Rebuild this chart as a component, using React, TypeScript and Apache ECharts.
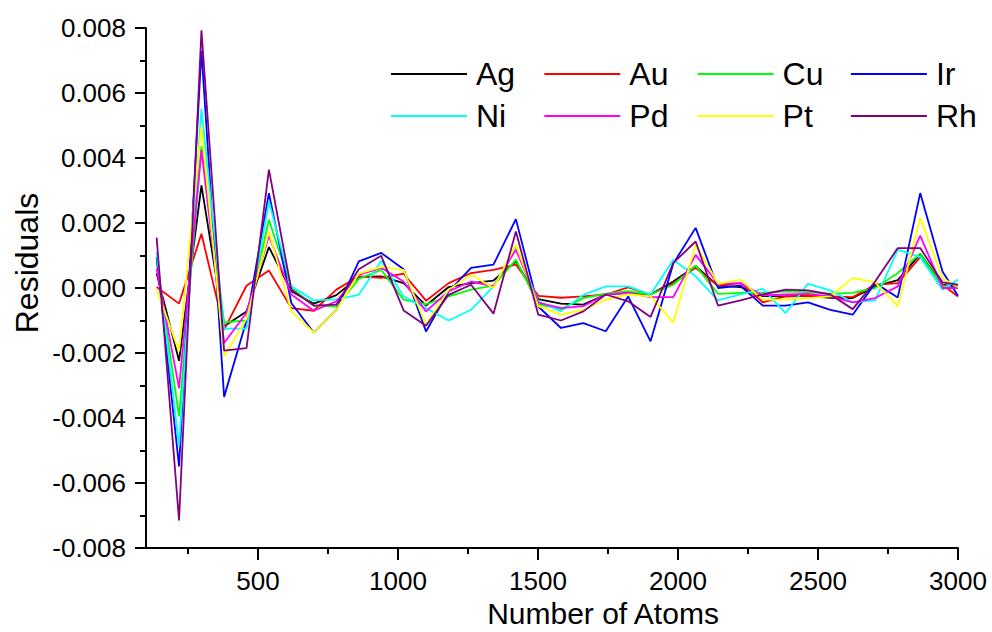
import React, { useEffect, useRef } from "react";
import * as echarts from "echarts";

const atoms = [138, 218, 298, 379, 459, 539, 619, 699, 780, 860, 940, 1020, 1100, 1181, 1261, 1341, 1421, 1501, 1582, 1662, 1742, 1822, 1902, 1983, 2063, 2143, 2223, 2303, 2384, 2464, 2544, 2624, 2704, 2785, 2865, 2945, 3000];

const ag = [0.00045, -0.00224, 0.00316, -0.00118, -0.00072, 0.00126, -0.0001, -0.00048, -0.00022, 0.00034, 0.00036, 0.00015, -0.00054, 0.00003, 0.00015, 0.00023, 0.00082, -0.00034, -0.00048, -0.00051, -0.0002, -0.00015, -0.0002, 0.0002, 0.00067, 0.00007, 0.00003, -0.00025, -0.00026, -0.00024, -0.0003, -0.00031, 0.00005, 0.00024, 0.00105, 0.0001, 0.00003];
const au = [0.00003, -0.00048, 0.00167, -0.00128, 0.00007, 0.00054, -0.00062, -0.0007, -0.00005, 0.00036, 0.00031, 0.00044, -0.00039, 0.00015, 0.00046, 0.00056, 0.00072, -0.00024, -0.0003, -0.00026, -0.0002, 0.00002, -0.0002, 0.00015, 0.00062, 0.00007, 0.00015, -0.00044, -0.00026, -0.00024, -0.00026, -0.00028, 0.0001, 0.00015, 0.00095, 0.0001, -0.00026];
const cu = [0.00085, -0.00395, 0.00436, -0.00106, -0.001, 0.0021, 0.0, -0.00054, -0.00057, 0.00028, 0.00056, -0.00036, -0.0005, -0.00026, -0.00005, 0.00007, 0.00087, -0.0005, -0.00065, -0.00031, -0.00017, -0.0001, -0.0002, 0.0001, 0.00069, -0.00018, -0.00015, -0.00015, -0.0001, -0.00013, -0.00017, -0.00015, 0.0, 0.00046, 0.00105, 0.00005, 0.00007];
const ir = [0.00095, -0.00549, 0.0073, -0.00335, -0.001, 0.00292, -0.00046, -0.00137, -0.00067, 0.00082, 0.00108, 0.00058, -0.00134, -0.0001, 0.00062, 0.00072, 0.00212, -0.00057, -0.00123, -0.00108, -0.00133, -0.00026, -0.00164, 0.00075, 0.00185, 0.0, 0.00007, -0.00054, -0.00054, -0.00044, -0.00067, -0.00082, 0.00015, -0.00029, 0.00292, 0.0005, -0.00024];
const ni = [0.0011, -0.00487, 0.00551, -0.00125, -0.00125, 0.00266, 0.00005, -0.00038, -0.00035, -0.00021, 0.00084, -0.00026, -0.00062, -0.001, -0.00067, 0.00005, 0.00123, -0.0004, -0.00072, -0.00021, 0.00005, 0.00005, -0.0002, 0.00087, 0.00036, -0.00038, -0.0002, -0.00003, -0.00077, 0.00013, -0.00007, -0.00044, -0.00038, 0.00118, 0.00095, -0.00005, 0.00026];
const pd = [0.0006, -0.00308, 0.00424, -0.00169, -0.00076, 0.00161, -0.0002, -0.0007, -0.00041, 0.0004, 0.00062, 0.0002, -0.00072, -0.0001, 0.0002, 0.00005, 0.00118, -0.00045, -0.00062, -0.00056, -0.0002, -0.00015, -0.00028, -0.00028, 0.00102, 0.00013, 0.00015, -0.00023, -0.0002, -0.00018, -0.00026, -0.00044, -0.00031, 0.00005, 0.00161, 0.0, 0.0];
const pt = [-0.00003, -0.00195, 0.00499, -0.0021, -0.00095, 0.00174, -0.00072, -0.00137, -0.00067, 0.00044, 0.00065, 0.00056, -0.00113, -0.00005, 0.00041, 0.0, 0.00133, -0.00056, -0.00082, -0.00067, -0.00036, -0.0002, -0.00026, -0.00106, 0.00133, 0.00013, 0.00026, -0.00036, -0.00036, -0.00031, -0.00026, 0.00031, 0.00017, -0.00056, 0.00215, 0.0003, 0.00003];
const rh = [0.00155, -0.00715, 0.00793, -0.00193, -0.00185, 0.00364, -0.00005, -0.00054, -0.00051, 0.00058, 0.00099, -0.00069, -0.00116, -0.00021, 0.0001, -0.00079, 0.00174, -0.00082, -0.001, -0.00072, -0.0002, -0.00041, -0.00089, 0.00077, 0.00143, -0.00054, -0.00038, -0.0002, -0.00005, -0.00007, -0.0002, -0.00065, 0.0002, 0.00123, 0.00123, 0.00017, 0.0001];

const seriesNames = ["Ag", "Au", "Cu", "Ir", "Ni", "Pd", "Pt", "Rh"];
const seriesValues = [ag, au, cu, ir, ni, pd, pt, rh];
const seriesColors = ["#000000", "#ff0000", "#00ff00", "#0000ff", "#00ffff", "#ff00ff", "#ffff00", "#800080"];

const xMajorTicks = [500, 1000, 1500, 2000, 2500, 3000];
const xMinorTicks = [250, 750, 1250, 1750, 2250, 2750];

const FONT = "'Liberation Sans', Arial, Helvetica, sans-serif";

export default function App() {
  const ref = useRef<HTMLDivElement>(null);

  useEffect(() => {
    if (!ref.current) return;
    const chart = echarts.init(ref.current, null, { renderer: "svg" });

    const option: any = {
      animation: false,
      backgroundColor: "#ffffff",
      grid: {
        left: 146,
        right: 34,
        top: 28,
        bottom: 84,
        containLabel: false,
        outerBoundsMode: "none",
      },
      legend: seriesNames.map((name, i) => ({
        data: [name],
        left: 391 + (i % 4) * 153.3,
        top: i < 4 ? 58 : 100,
        padding: 0,
        icon: "rect",
        itemWidth: 76,
        itemHeight: 2,
        itemGap: 0,
        selectedMode: false,
        textStyle: {
          fontFamily: FONT,
          fontSize: 32,
          color: "#000",
          padding: [0, 0, 0, 4],
        },
      })),
      xAxis: [
        {
          type: "value",
          min: 100,
          max: 3000,
          position: "bottom",
          axisLine: { show: true, onZero: false, lineStyle: { color: "#000", width: 2 } },
          splitLine: { show: false },
          axisTick: {
            show: true,
            length: 12,
            customValues: xMajorTicks,
            lineStyle: { color: "#000", width: 2 },
          },
          axisLabel: {
            customValues: xMajorTicks,
            fontFamily: FONT,
            fontSize: 26,
            color: "#000",
            margin: 20,
            formatter: (v: number) => String(Math.round(v)),
          },
        },
        {
          type: "value",
          min: 100,
          max: 3000,
          position: "bottom",
          axisLine: { show: false, onZero: false },
          splitLine: { show: false },
          axisTick: {
            show: true,
            length: 6,
            customValues: xMinorTicks,
            lineStyle: { color: "#000", width: 2 },
          },
          axisLabel: { show: false },
        },
      ],
      yAxis: {
        type: "value",
        min: -0.008,
        max: 0.008,
        interval: 0.002,
        axisLine: { show: true, onZero: false, lineStyle: { color: "#000", width: 2 } },
        splitLine: { show: false },
        axisTick: { show: true, length: 11, lineStyle: { color: "#000", width: 2 } },
        minorTick: { show: true, splitNumber: 2, length: 6, lineStyle: { color: "#000", width: 2 } },
        minorSplitLine: { show: false },
        axisLabel: {
          fontFamily: FONT,
          fontSize: 26,
          color: "#000",
          margin: 20,
          formatter: (v: number) => (Math.abs(v) < 1e-9 ? "0.000" : v.toFixed(3)),
        },
      },
      series: seriesNames.map((name, i) => ({
        name,
        type: "line",
        xAxisIndex: 0,
        data: atoms.map((x, j) => [x, seriesValues[i][j]]),
        showSymbol: false,
        symbol: "none",
        color: seriesColors[i],
        lineStyle: { color: seriesColors[i], width: 1.8 },
        clip: true,
      })),
      graphic: [
        {
          type: "text",
          x: 603,
          y: 613,
          style: {
            text: "Number of Atoms",
            font: `30px ${FONT}`,
            fill: "#000",
            align: "center",
            verticalAlign: "middle",
          },
        },
        {
          type: "text",
          x: 27,
          y: 263,
          rotation: Math.PI / 2,
          style: {
            text: "Residuals",
            font: `32px ${FONT}`,
            fill: "#000",
            align: "center",
            verticalAlign: "middle",
          },
        },
      ],
    };

    chart.setOption(option);
    return () => chart.dispose();
  }, []);

  return (
    <div
      ref={ref}
      style={{ position: "fixed", left: 0, top: 0, width: 992, height: 632, background: "#fff" }}
    />
  );
}
